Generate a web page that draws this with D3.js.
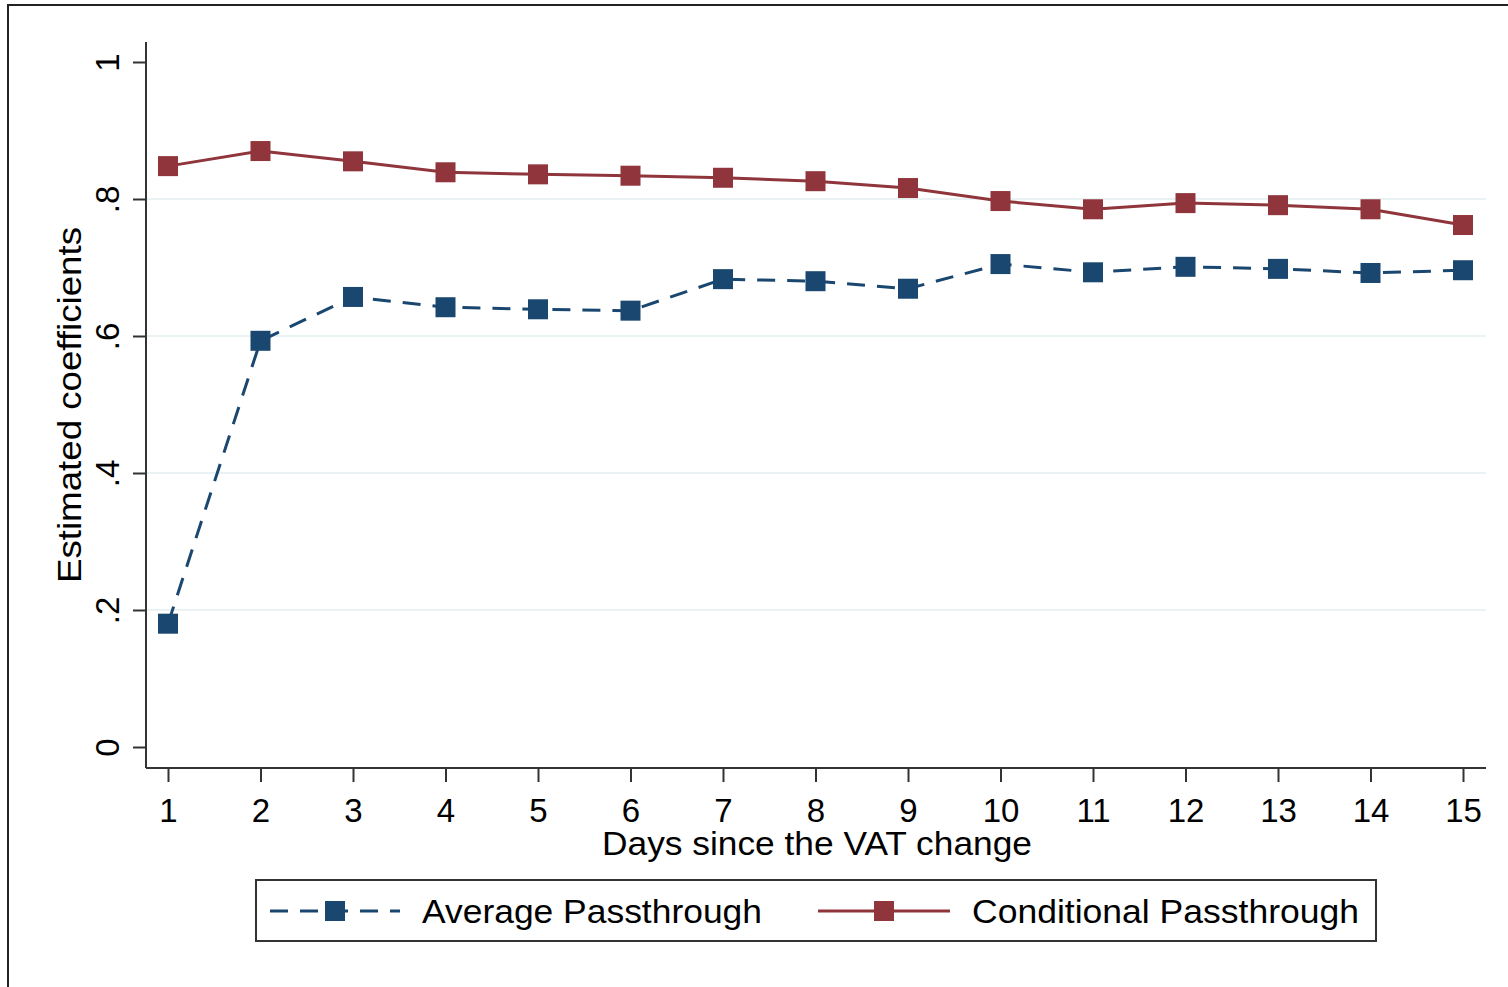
<!DOCTYPE html>
<html><head><meta charset="utf-8">
<script src="https://cdn.jsdelivr.net/npm/d3@7"></script>
<style>html,body{margin:0;padding:0;background:#fff;}svg{display:block;}</style>
</head><body>
<svg id="c" width="1508" height="987"></svg>
<script>
const days = [1,2,3,4,5,6,7,8,9,10,11,12,13,14,15];
const averagePass = [0.180,0.593,0.657,0.642,0.639,0.637,0.683,0.680,0.669,0.705,0.693,0.701,0.698,0.692,0.696];
const conditionalPass = [0.848,0.870,0.855,0.839,0.836,0.834,0.831,0.826,0.816,0.797,0.785,0.794,0.791,0.785,0.762];
const yTicks = [0,0.2,0.4,0.6,0.8,1];
const yTickLabels = ["0",".2",".4",".6",".8","1"];
const gridTicks = [0.2,0.4,0.6,0.8];
const seriesNames = ["Average Passthrough","Conditional Passthrough"];

(function(){
const FONT = "'Liberation Sans', Arial, sans-serif";
const FS = 33;
const BLUE = "#1a476f", RED = "#90353b";
const svg = d3.select("#c");

// outer frame
svg.append("rect").attr("x",8).attr("y",5).attr("width",1520).attr("height",1000)
  .attr("fill","none").attr("stroke","#222").attr("stroke-width",2);

const pL = 146, pR = 1486, pT = 42, pB = 768;
const x = d3.scaleLinear().domain([1,15]).range([168,1463]);
const y = d3.scaleLinear().domain([0,1]).range([747,62]);

// grid
svg.append("g").selectAll("line").data(gridTicks).join("line")
  .attr("x1",pL).attr("x2",pR).attr("y1",d=>y(d)).attr("y2",d=>y(d))
  .attr("stroke","#eaf2f3").attr("stroke-width",2);

// y axis
const yAx = svg.append("g").attr("transform",`translate(${pL},0)`)
  .call(d3.axisLeft(y).tickValues(yTicks).tickSize(13).tickFormat((d,i)=>yTickLabels[i]));
yAx.select(".domain").attr("d",`M0,${pT}V${pB}`).attr("stroke","#333").attr("stroke-width",2);
yAx.selectAll(".tick line").attr("stroke","#333").attr("stroke-width",2);
yAx.selectAll(".tick text").attr("x",0).attr("dy",null)
  .attr("transform","translate(-27,0) rotate(-90)")
  .attr("text-anchor","middle").attr("font-family",FONT).attr("font-size",FS).attr("fill","#000");

// x axis
const xAx = svg.append("g").attr("transform",`translate(0,${pB})`)
  .call(d3.axisBottom(x).tickValues(days).tickSize(14).tickFormat(d3.format("d")));
xAx.select(".domain").attr("d",`M${pL},0H${pR}`).attr("stroke","#333").attr("stroke-width",2);
xAx.selectAll(".tick line").attr("stroke","#333").attr("stroke-width",2);
xAx.selectAll(".tick text").attr("y",54).attr("dy",null)
  .attr("font-family",FONT).attr("font-size",FS).attr("fill","#000");

// titles
svg.append("text").attr("x",817).attr("y",855).attr("text-anchor","middle")
  .attr("font-family",FONT).attr("font-size",FS)
  .attr("textLength",430).attr("lengthAdjust","spacingAndGlyphs")
  .text("Days since the VAT change");
svg.append("text").attr("transform","translate(81,405) rotate(-90)").attr("text-anchor","middle")
  .attr("font-family",FONT).attr("font-size",FS)
  .attr("textLength",356).attr("lengthAdjust","spacingAndGlyphs")
  .text("Estimated coefficients");

// lines
const line = d3.line().x((d,i)=>x(days[i])).y(d=>y(d));
svg.append("path").datum(averagePass).attr("d",line).attr("fill","none")
  .attr("stroke",BLUE).attr("stroke-width",3).attr("stroke-dasharray","18,12");
svg.append("path").datum(conditionalPass).attr("d",line).attr("fill","none")
  .attr("stroke",RED).attr("stroke-width",3);

const ms = 20;
svg.append("g").selectAll("rect").data(averagePass).join("rect")
  .attr("x",(d,i)=>x(days[i])-ms/2).attr("y",d=>y(d)-ms/2).attr("width",ms).attr("height",ms).attr("fill",BLUE);
svg.append("g").selectAll("rect").data(conditionalPass).join("rect")
  .attr("x",(d,i)=>x(days[i])-ms/2).attr("y",d=>y(d)-ms/2).attr("width",ms).attr("height",ms).attr("fill",RED);

// legend
svg.append("rect").attr("x",256).attr("y",880).attr("width",1120).attr("height",61)
  .attr("fill","#fff").attr("stroke","#333").attr("stroke-width",2);
const ly = 911;
svg.append("line").attr("x1",270).attr("x2",400).attr("y1",ly).attr("y2",ly)
  .attr("stroke",BLUE).attr("stroke-width",3).attr("stroke-dasharray","18,12");
svg.append("rect").attr("x",335-ms/2).attr("y",ly-ms/2).attr("width",ms).attr("height",ms).attr("fill",BLUE);
svg.append("text").attr("x",422).attr("y",ly+12).attr("font-family",FONT).attr("font-size",FS)
  .attr("textLength",340).attr("lengthAdjust","spacingAndGlyphs").text(seriesNames[0]);
svg.append("line").attr("x1",818).attr("x2",950).attr("y1",ly).attr("y2",ly)
  .attr("stroke",RED).attr("stroke-width",3);
svg.append("rect").attr("x",884-ms/2).attr("y",ly-ms/2).attr("width",ms).attr("height",ms).attr("fill",RED);
svg.append("text").attr("x",972).attr("y",ly+12).attr("font-family",FONT).attr("font-size",FS)
  .attr("textLength",387).attr("lengthAdjust","spacingAndGlyphs").text(seriesNames[1]);
})();
</script>
</body></html>
